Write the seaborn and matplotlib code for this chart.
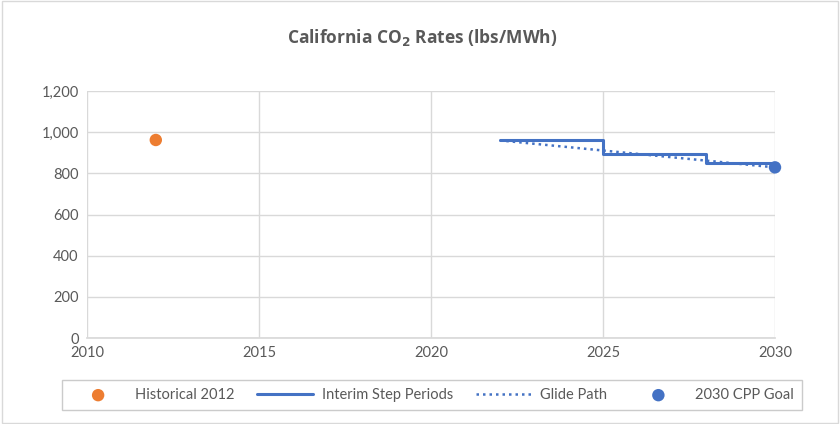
import matplotlib.pyplot as plt
import matplotlib.ticker as mticker
from matplotlib.patches import Rectangle
import seaborn as sns
import pandas as pd

hist_year = [2012]
hist_rate = [962]

step_years = [2022, 2025, 2028, 2030]
step_rates = [960, 894, 849, 849]

glide_years = [2022, 2030]
glide_rates = [960, 829]

goal_year = [2030]
goal_rate = [829]

orange = "#ED7D31"
blue = "#4472C4"
grey = "#595959"

sns.set_theme(style="white")
plt.rcParams["font.family"] = ["Lato", "DejaVu Sans"]

fig = plt.figure(figsize=(8.4, 4.24), dpi=100)
ax = fig.add_axes([87 / 840, 1 - 338 / 424, (775 - 87) / 840, (338 - 91) / 424])

steps = pd.DataFrame({"year": step_years, "rate": step_rates})
glide = pd.DataFrame({"year": glide_years, "rate": glide_rates})

sns.scatterplot(x=hist_year, y=hist_rate, ax=ax, color=orange, s=80, edgecolor="none",
                label="Historical 2012", zorder=4)
sns.lineplot(data=steps, x="year", y="rate", ax=ax, color=blue, linewidth=2.2,
             drawstyle="steps-post", label="Interim Step Periods", zorder=3)
sns.lineplot(data=glide, x="year", y="rate", ax=ax, color=blue, linewidth=1.8,
             linestyle=(0, (1, 1.6)), label="Glide Path", zorder=3)
sns.scatterplot(x=goal_year, y=goal_rate, ax=ax, color=blue, s=80, edgecolor="none",
                label="2030 CPP Goal", zorder=5, clip_on=False)

ax.set_xlim(2010, 2030)
ax.set_ylim(0, 1200)
ax.set_xticks(range(2010, 2031, 5))
ax.set_yticks(range(0, 1201, 200))
ax.yaxis.set_major_formatter(mticker.FuncFormatter(lambda v, p: f"{int(v):,}"))
ax.grid(True, color="#d9d9d9", linewidth=1)
ax.set_axisbelow(True)
for s in ["top", "right", "left"]:
    ax.spines[s].set_visible(False)
ax.spines["bottom"].set_color("#d9d9d9")
ax.tick_params(axis="both", colors=grey, labelsize=10.5, length=0, pad=6)
ax.set_xlabel("")
ax.set_ylabel("")

handles, labels = ax.get_legend_handles_labels()
ax.get_legend().remove()
leg = fig.legend(handles, labels, loc="center", bbox_to_anchor=(432 / 840, 1 - 395 / 424),
                 ncol=4, frameon=True, fontsize=10.5, handlelength=3.8, columnspacing=1.6,
                 handletextpad=0.6, borderpad=0.55, fancybox=False)
leg.get_frame().set_edgecolor("#bfbfbf")
for t in leg.get_texts():
    t.set_color(grey)

fig.text(422 / 840, 1 - 38 / 424, "California CO$_\\mathbf{2}$ Rates (lbs/MWh)", ha="center",
         va="center", fontsize=12.5, fontweight="bold", color=grey,
         family=["Open Sans", "DejaVu Sans"])

fig.patches.append(Rectangle((0.002, 0.002), 0.996, 0.996, transform=fig.transFigure,
                             fill=False, edgecolor="#d9d9d9", linewidth=1))

fig.savefig("out.png", dpi=100)
